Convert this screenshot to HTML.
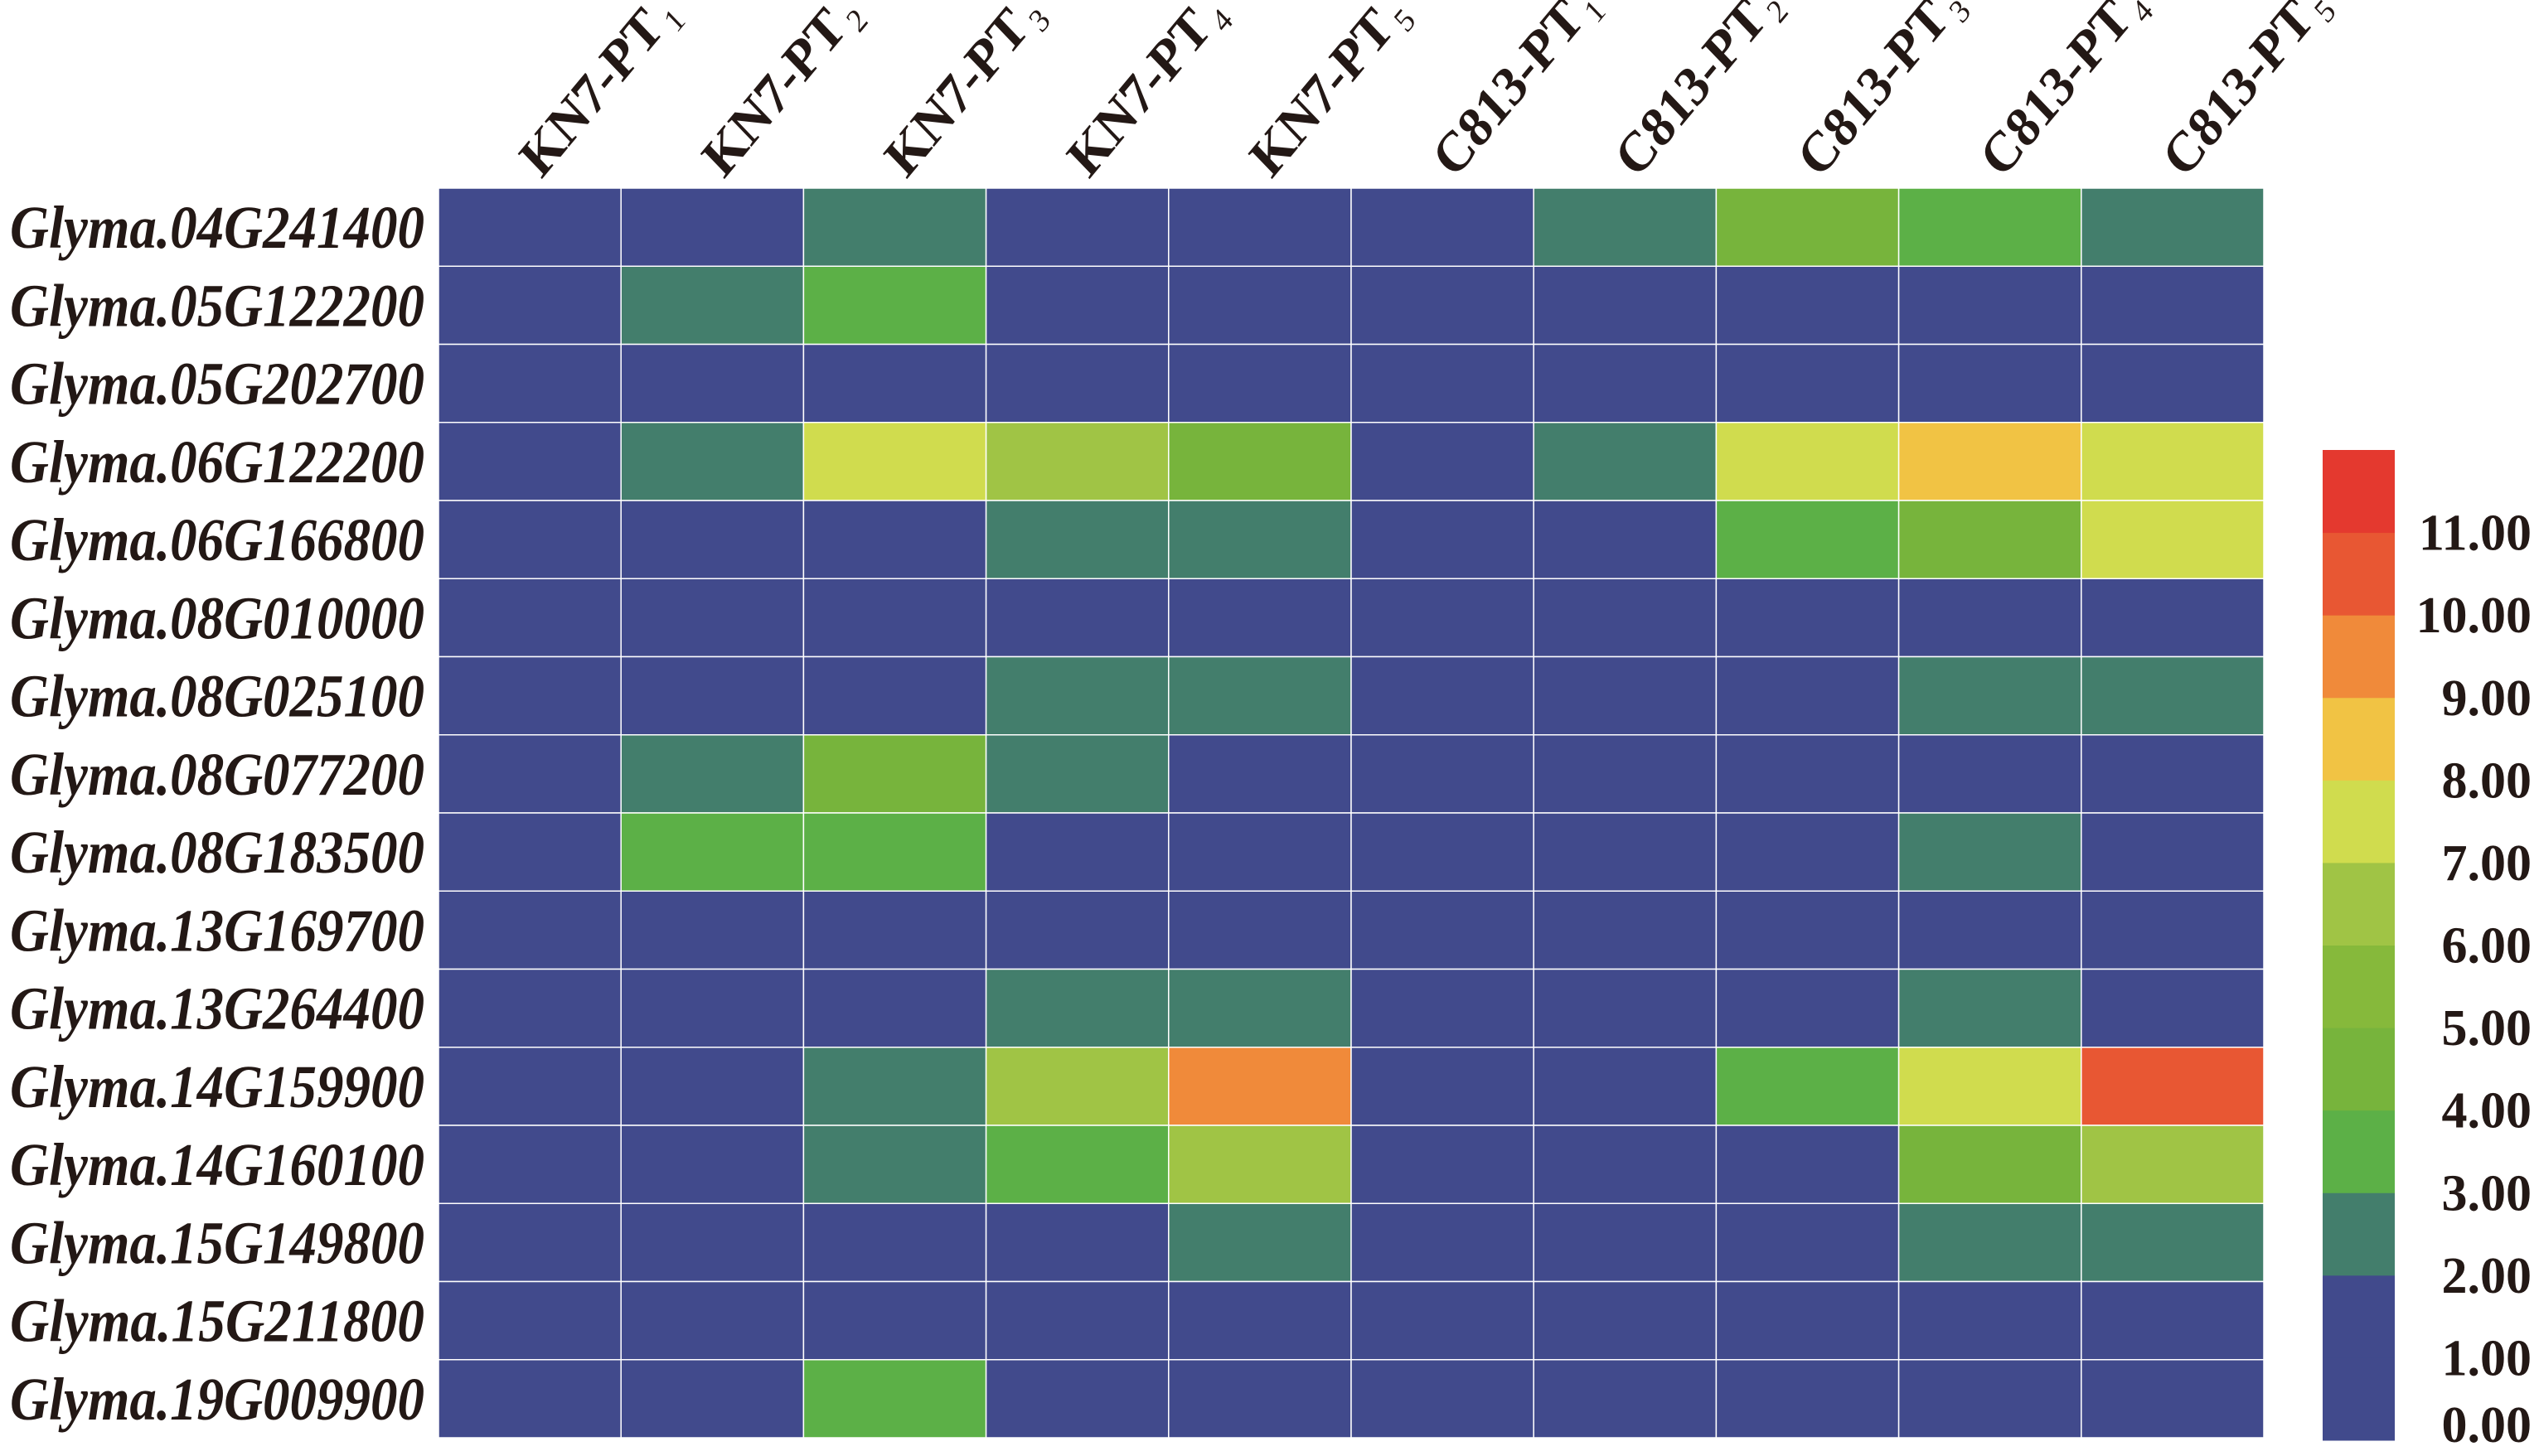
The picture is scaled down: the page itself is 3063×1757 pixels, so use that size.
<!DOCTYPE html>
<html><head><meta charset="utf-8"><style>
html,body{margin:0;padding:0;background:#fff;}
svg{display:block;}
text{font-family:"Liberation Serif",serif;fill:#231815;}
</style></head><body>
<svg id="chart" width="3063" height="1757" viewBox="0 0 3063 1757" xmlns="http://www.w3.org/2000/svg"></svg>
<script>
const genes = ["Glyma.04G241400","Glyma.05G122200","Glyma.05G202700","Glyma.06G122200","Glyma.06G166800","Glyma.08G010000","Glyma.08G025100","Glyma.08G077200","Glyma.08G183500","Glyma.13G169700","Glyma.13G264400","Glyma.14G159900","Glyma.14G160100","Glyma.15G149800","Glyma.15G211800","Glyma.19G009900"];
const samplePrefix = ["KN7-PT","KN7-PT","KN7-PT","KN7-PT","KN7-PT","C813-PT","C813-PT","C813-PT","C813-PT","C813-PT"];
const sampleSub = ["1","2","3","4","5","1","2","3","4","5"];
const values = [
 [0.5,0.5,2.5,0.5,0.5,0.5,2.5,4.5,3.5,2.5],
 [0.5,2.5,3.5,0.5,0.5,0.5,0.5,0.5,0.5,0.5],
 [0.5,0.5,0.5,0.5,0.5,0.5,0.5,0.5,0.5,0.5],
 [0.5,2.5,7.5,6.5,4.5,0.5,2.5,7.5,8.5,7.5],
 [0.5,0.5,0.5,2.5,2.5,0.5,0.5,3.5,4.5,7.5],
 [0.5,0.5,0.5,0.5,0.5,0.5,0.5,0.5,0.5,0.5],
 [0.5,0.5,0.5,2.5,2.5,0.5,0.5,0.5,2.5,2.5],
 [0.5,2.5,4.5,2.5,0.5,0.5,0.5,0.5,0.5,0.5],
 [0.5,3.5,3.5,0.5,0.5,0.5,0.5,0.5,2.5,0.5],
 [0.5,0.5,0.5,0.5,0.5,0.5,0.5,0.5,0.5,0.5],
 [0.5,0.5,0.5,2.5,2.5,0.5,0.5,0.5,2.5,0.5],
 [0.5,0.5,2.5,6.5,9.5,0.5,0.5,3.5,7.5,10.5],
 [0.5,0.5,2.5,3.5,6.5,0.5,0.5,0.5,4.5,6.5],
 [0.5,0.5,0.5,0.5,2.5,0.5,0.5,0.5,2.5,2.5],
 [0.5,0.5,0.5,0.5,0.5,0.5,0.5,0.5,0.5,0.5],
 [0.5,0.5,3.5,0.5,0.5,0.5,0.5,0.5,0.5,0.5]
];
const bandColors = ["#414a8c","#414a8c","#437e6c","#5cb047","#77b43c","#86b93b","#a0c445","#d0dc4e","#f1c344","#f08a3a","#e85733","#e4392f"];
const tickLabels = ["0.00","1.00","2.00","3.00","4.00","5.00","6.00","7.00","8.00","9.00","10.00","11.00"];

const NS="http://www.w3.org/2000/svg";
const svg=document.getElementById('chart');
function mk(tag,attrs,parent){const e=document.createElementNS(NS,tag);for(const k in attrs)e.setAttribute(k,attrs[k]);(parent||svg).appendChild(e);return e;}
const gx0=529,gx1=2731,gy0=227,gy1=1735;
const cw=(gx1-gx0)/samplePrefix.length, rh=(gy1-gy0)/genes.length;
const xPos=i=>gx0+i*cw, yPos=j=>gy0+j*rh;
const colorOf=v=>bandColors[Math.max(0,Math.min(bandColors.length-1,Math.floor(v)))];

const cells=mk('g',{});


values.forEach((row,j)=>row.forEach((v,i)=>{
  const r=mk('rect',{x:xPos(i),y:yPos(j),width:cw,height:rh,fill:colorOf(v),stroke:'#ffffff','stroke-width':1.5},cells);
  
  
}));

genes.forEach((g,j)=>{
  const by=yPos(j)+rh/2+25;
  const t=mk('text',{x:0,y:0,transform:`translate(512 ${by}) scale(1 1.22)`,'text-anchor':'end','font-size':60,'font-weight':'bold','font-style':'italic',textLength:500,lengthAdjust:'spacingAndGlyphs'});
  t.textContent=g;
  
  
});

samplePrefix.forEach((p,i)=>{
  const cx=xPos(i)+cw/2+14, cy=217;
  const t=mk('text',{x:0,y:0,transform:`translate(${cx} ${cy}) scale(1 1.12) rotate(-47)`,'font-size':61,'font-weight':'bold'});
  
  
  const a=mk('tspan',{},t);a.textContent=p;
  const b=mk('tspan',{'font-size':36,dy:12,dx:6,'font-weight':'normal'},t);b.textContent=sampleSub[i];
});

const lg=mk('g',{});


const lx=2802,lw=87,ly0=543,ly1=1738,bh=(ly1-ly0)/bandColors.length;
bandColors.forEach((c,k)=>{
  const r=mk('rect',{x:lx,y:ly1-(k+1)*bh,width:lw,height:bh+0.5,fill:c},lg);
  
  
});
tickLabels.forEach((s,k)=>{
  let y=ly1-k*bh+21; if(k===0)y=1740;
  const t=mk('text',{x:3054,y:y,'text-anchor':'end','font-size':62,'font-weight':'bold'},lg);
  t.textContent=s;
  
  
});
</script>
</body></html>
